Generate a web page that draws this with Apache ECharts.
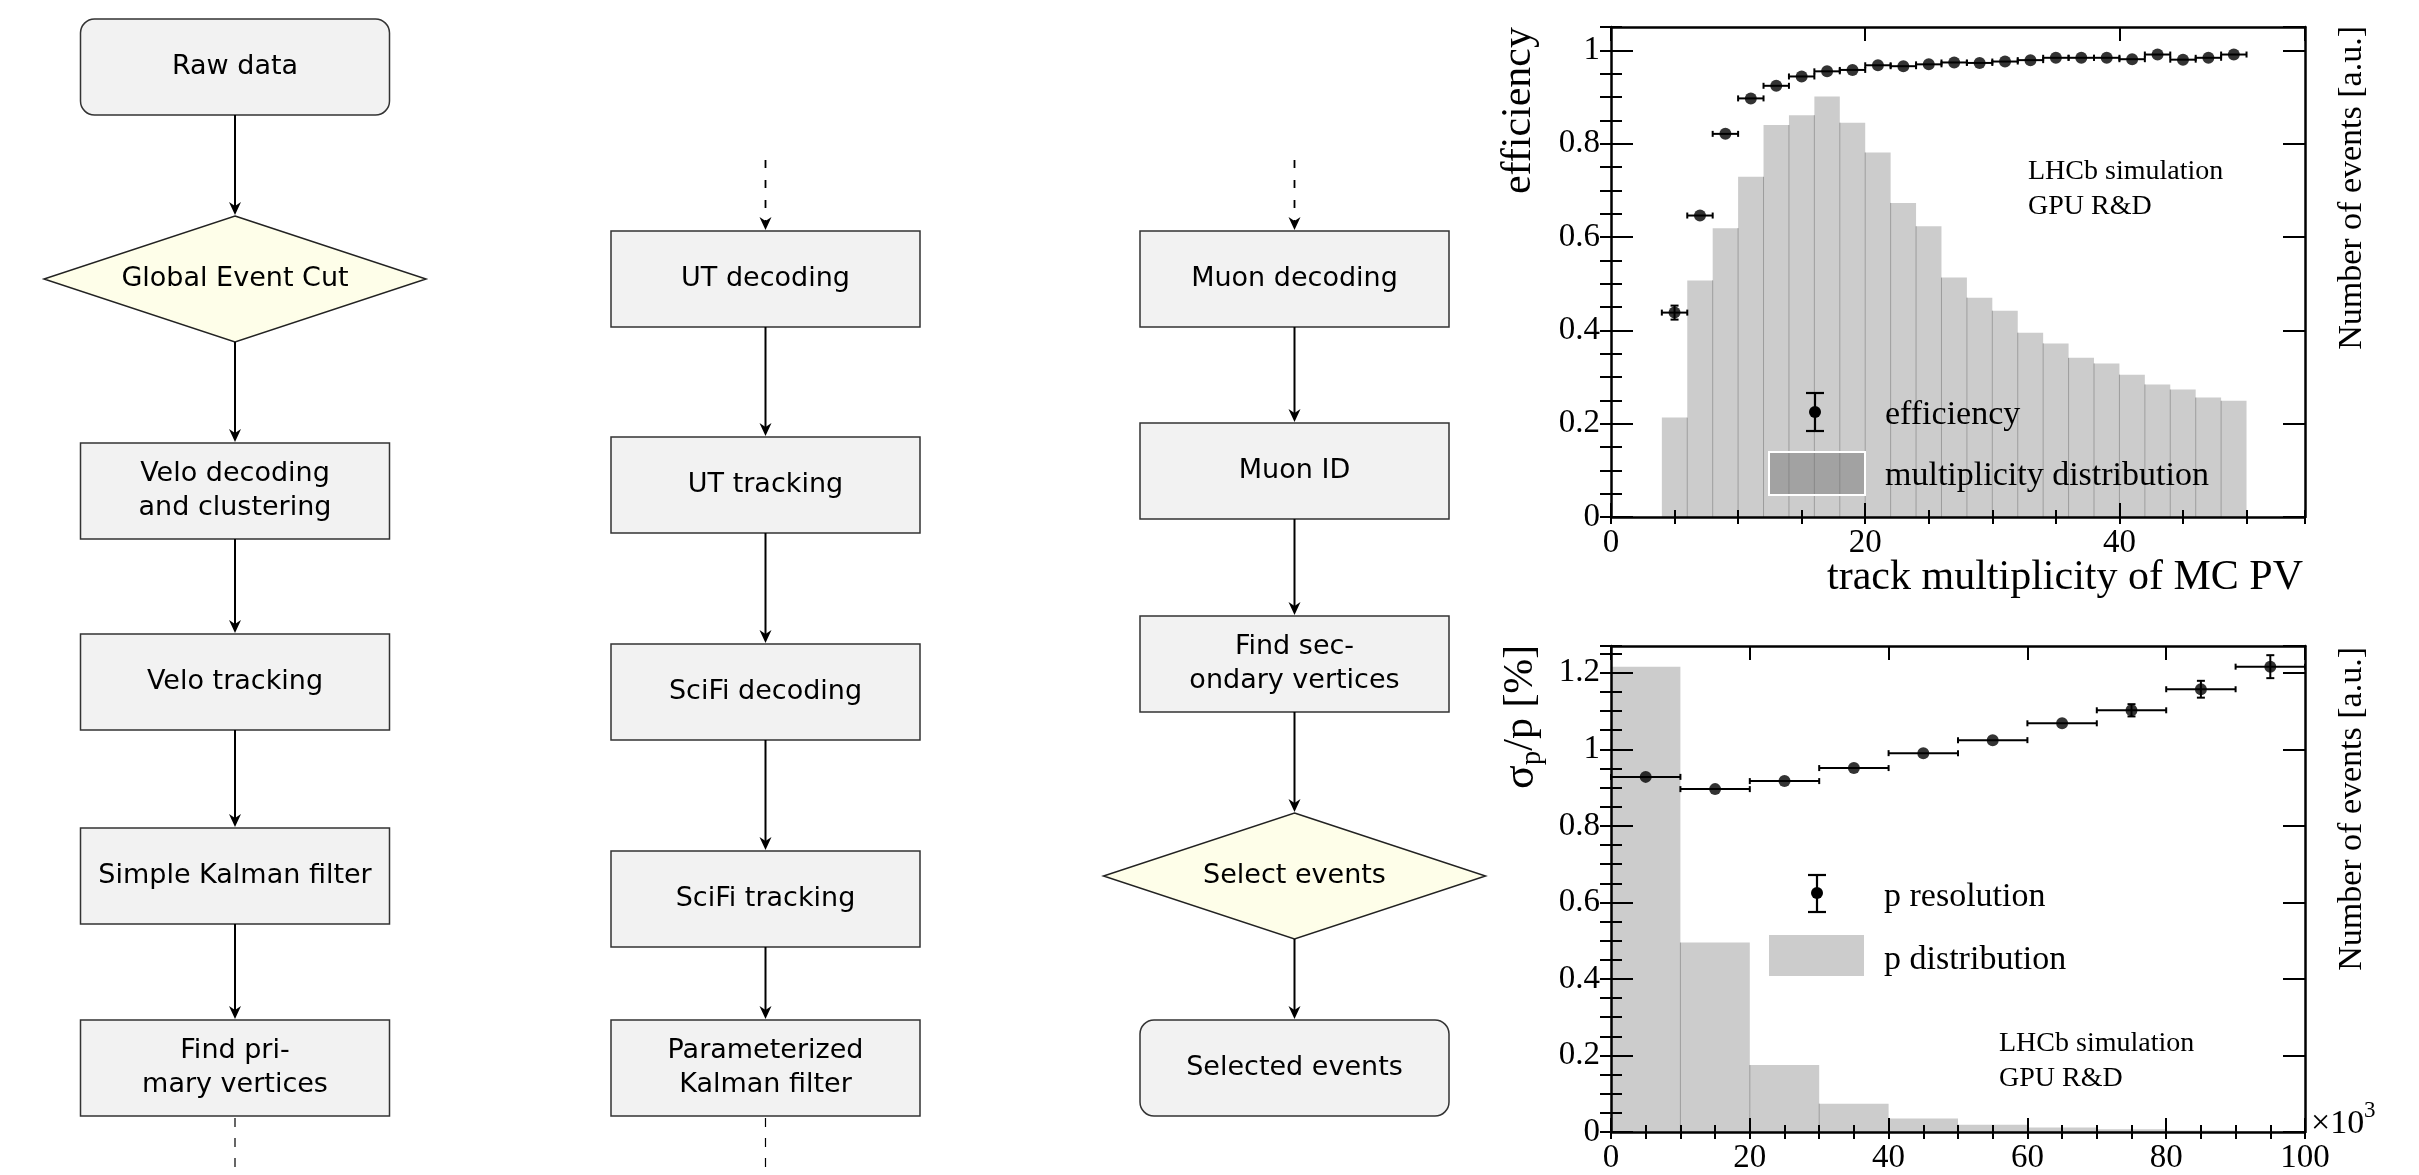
<!DOCTYPE html>
<html><head><meta charset="utf-8">
<script src="https://cdn.jsdelivr.net/npm/echarts@6/dist/echarts.min.js"></script>
<style>html,body{margin:0;padding:0;background:#fff}#c{width:2419px;height:1175px}</style>
</head><body><div id="c"></div>
<script>
// ===== DATA: efficiency vs track multiplicity (top plot) =====
const multEdges  = [4,6,8,10,12,14,16,18,20,22,24,26,28,30,32,34,36,38,40,42,44,46,48,50];
const multCounts = [0.213,0.507,0.619,0.729,0.840,0.861,0.901,0.845,0.781,0.673,0.623,0.513,0.470,0.442,0.395,0.372,0.341,0.329,0.305,0.284,0.273,0.256,0.249];
const effX    = [5,7,9,11,13,15,17,19,21,23,25,27,29,31,33,35,37,39,41,43,45,47,49];
const effY    = [0.438,0.646,0.821,0.897,0.924,0.944,0.955,0.958,0.968,0.966,0.970,0.974,0.973,0.976,0.979,0.984,0.984,0.984,0.981,0.991,0.980,0.984,0.991];
const effXErr = [1,1,1,1,1,1,1,1,1,1,1,1,1,1,1,1,1,1,1,1,1,1,1];
const effYErr = [0.015,0.008,0.006,0.005,0.004,0.004,0.004,0.004,0.004,0.004,0.004,0.004,0.004,0.004,0.004,0.004,0.004,0.004,0.004,0.004,0.004,0.004,0.004];
const effXTicks = [0,20,40];
const effYTicks = ['0','0.2','0.4','0.6','0.8','1'];

// ===== DATA: momentum resolution (bottom plot) =====
const pEdges  = [0,10,20,30,40,50,60,70,80,90,100];
const pCounts = [1.216,0.495,0.175,0.074,0.035,0.019,0.012,0.007,0.004,0.002];
const resX    = [5,15,25,35,45,55,65,75,85,95];
const resY    = [0.928,0.896,0.917,0.951,0.990,1.024,1.068,1.102,1.157,1.216];
const resXErr = [5,5,5,5,5,5,5,5,5,5];
const resYErr = [0.005,0.005,0.005,0.006,0.007,0.008,0.011,0.016,0.022,0.030];
const resXTicks = [0,20,40,60,80,100];
const resYTicks = ['0','0.2','0.4','0.6','0.8','1','1.2'];

// ===== FLOWCHART TEXT =====
const flowCol1 = ['Raw data','Global Event Cut','Velo decoding\nand clustering','Velo tracking','Simple Kalman filter','Find pri-\nmary vertices'];
const flowCol2 = ['UT decoding','UT tracking','SciFi decoding','SciFi tracking','Parameterized\nKalman filter'];
const flowCol3 = ['Muon decoding','Muon ID','Find sec-\nondary vertices','Select events','Selected events'];

// ===== FLOWCHART LAYOUT (pixels) =====
const flowLayout = [
  {labels:flowCol1, cx:235, shapes:['round','diamond','rect','rect','rect','rect'],
   tops:[19,216,443,634,828,1020], bottoms:[115,342,539,730,924,1116], dashIn:false, dashOut:true},
  {labels:flowCol2, cx:765.5, shapes:['rect','rect','rect','rect','rect'],
   tops:[231,437,644,851,1020], bottoms:[327,533,740,947,1116], dashIn:true, dashOut:true},
  {labels:flowCol3, cx:1294.5, shapes:['rect','rect','rect','diamond','round'],
   tops:[231,423,616,813,1020], bottoms:[327,519,712,939,1116], dashIn:true, dashOut:false}
];

const SERIF = 'Liberation Serif';
const SANS = 'DejaVu Sans';
const _ctx = document.createElement('canvas').getContext('2d');
function tw(t, size, fam){ _ctx.font = size+'px "'+fam+'"'; return _ctx.measureText(t).width; }

function txt(text, x, y, size, fam, align, valign, extra){
  const st = {text:text, fontSize:size, fontFamily:fam, fill:'#000',
    align:align, verticalAlign:valign, textAlign:align, textVerticalAlign:valign};
  if (extra && extra.lineHeight) st.lineHeight = extra.lineHeight;
  const el = {type:'text', x:x, y:y, z:20, style:st};
  if (extra && extra.rotation) el.rotation = extra.rotation;
  return el;
}

// ===== flowchart graphics =====
const G = [];
function arrowLine(x, y1, y2, dashed){
  G.push({type:'line', z:5, shape:{x1:x, y1:y1, x2:x, y2:y2-6},
    style:{stroke:'#000', lineWidth: dashed?1.8:2, lineDash: dashed?[8,12]:null}});
  G.push({type:'polygon', z:6, shape:{points:[[x,y2],[x-6,y2-13],[x,y2-9],[x+6,y2-13]]}, style:{fill:'#000'}});
}
flowLayout.forEach(col => {
  const cx = col.cx, hw = 154.5, dw = 191;
  col.labels.forEach((lab, i) => {
    const t = col.tops[i], b = col.bottoms[i], sh = col.shapes[i];
    if (sh === 'diamond') {
      G.push({type:'polygon', z:4, shape:{points:[[cx,t],[cx+dw,(t+b)/2],[cx,b],[cx-dw,(t+b)/2]]},
        style:{fill:'#fefee9', stroke:'#222', lineWidth:1.5}});
    } else {
      G.push({type:'rect', z:4, shape:{x:cx-hw, y:t, width:2*hw, height:b-t, r: sh==='round'?14:0},
        style:{fill:'#f2f2f2', stroke:'#333', lineWidth:1.5}});
    }
    G.push(txt(lab, cx, (t+b)/2, 27, SANS, 'center', 'middle', {lineHeight:34}));
    if (i > 0) arrowLine(cx, col.bottoms[i-1], t - 1, false);
  });
  if (col.dashIn) arrowLine(cx, 160, col.tops[0] - 1, true);
  if (col.dashOut) {
    const yb = col.bottoms[col.bottoms.length-1];
    G.push({type:'line', z:5, shape:{x1:cx, y1:yb+2, x2:cx, y2:1170},
      style:{stroke:'#000', lineWidth:1.2, lineDash:[9,11]}});
  }
});

// ===== plot annotations =====
// top plot
G.push(txt('efficiency', 1519, 27, 42, SERIF, 'right', 'middle', {rotation:Math.PI/2}));
G.push(txt('Number of events [a.u.]', 2352, 26, 34, SERIF, 'right', 'middle', {rotation:Math.PI/2}));
G.push(txt('track multiplicity of MC PV', 2303, 578, 42, SERIF, 'right', 'middle'));
G.push(txt('LHCb simulation', 2028, 172, 28, SERIF, 'left', 'middle'));
G.push(txt('GPU R&D', 2028, 207, 28, SERIF, 'left', 'middle'));
G.push(txt('efficiency', 1885, 415, 34, SERIF, 'left', 'middle'));
G.push(txt('multiplicity distribution', 1885, 476, 34, SERIF, 'left', 'middle'));
G.push({type:'rect', z:8, shape:{x:1769, y:452, width:96, height:43}, style:{fill:'rgba(110,110,110,0.45)', stroke:'#fff', lineWidth:2}});
function legendErr(x, y1, y2, yc){
  G.push({type:'line', z:9, shape:{x1:x,y1:y1,x2:x,y2:y2}, style:{stroke:'#000', lineWidth:2.2}});
  G.push({type:'line', z:9, shape:{x1:x-9,y1:y1,x2:x+9,y2:y1}, style:{stroke:'#000', lineWidth:2.2}});
  G.push({type:'line', z:9, shape:{x1:x-9,y1:y2,x2:x+9,y2:y2}, style:{stroke:'#000', lineWidth:2.2}});
  G.push({type:'circle', z:9, shape:{cx:x, cy:yc, r:6}, style:{fill:'#000'}});
}
legendErr(1815, 393, 431, 412);
// bottom plot
G.push(txt('Number of events [a.u.]', 2352, 647, 34, SERIF, 'right', 'middle', {rotation:Math.PI/2}));
(function(){
  const f1 = 44, f2 = 29;
  const w1 = tw('σ', f1, SERIF), w2 = tw('p', f2, SERIF);
  G.push({type:'group', x:1521, y:789, rotation:Math.PI/2, z:20, children:[
    {type:'text', x:0, y:0, style:{text:'σ', fontSize:f1, fontFamily:SERIF, fill:'#000', align:'left', verticalAlign:'middle', textAlign:'left', textVerticalAlign:'middle'}},
    {type:'text', x:w1, y:11, style:{text:'p', fontSize:f2, fontFamily:SERIF, fill:'#000', align:'left', verticalAlign:'middle', textAlign:'left', textVerticalAlign:'middle'}},
    {type:'text', x:w1+w2, y:0, style:{text:'/p [%]', fontSize:42, fontFamily:SERIF, fill:'#000', align:'left', verticalAlign:'middle', textAlign:'left', textVerticalAlign:'middle'}}
  ]});
})();
G.push(txt('p resolution', 1884, 897, 34, SERIF, 'left', 'middle'));
G.push(txt('p distribution', 1884, 960, 34, SERIF, 'left', 'middle'));
G.push({type:'rect', z:8, shape:{x:1769, y:935, width:95, height:41}, style:{fill:'#cccccc'}});
legendErr(1817, 875, 912, 893);
G.push(txt('LHCb simulation', 1999, 1044, 28, SERIF, 'left', 'middle'));
G.push(txt('GPU R&D', 1999, 1079, 28, SERIF, 'left', 'middle'));
G.push(txt('×10', 2311, 1124, 34, SERIF, 'left', 'middle'));
G.push(txt('3', 2364, 1111, 23, SERIF, 'left', 'middle'));

// ===== axes =====
function xAxes(grid, min, max, major, minor, fmtList){
  const base = {type:'value', gridIndex:grid, min:min, max:max, z:10, splitLine:{show:false}};
  return [
    Object.assign({}, base, {position:'bottom', interval:major,
      axisLine:{show:true, onZero:false, lineStyle:{color:'#000', width:2.5}},
      axisTick:{show:true, inside:true, length:14, lineStyle:{color:'#000', width:2}},
      axisLabel:{show:true, showMaxLabel: max === fmtList[fmtList.length-1], color:'#000', fontFamily:SERIF, fontSize:33, margin:10,
        formatter: v => (fmtList.indexOf(Math.round(v)) >= 0 && Math.abs(v-Math.round(v))<1e-6) ? String(Math.round(v)) : ''}}),
    Object.assign({}, base, {position:'bottom', interval:minor, axisLine:{show:false},
      axisTick:{show:true, inside:true, length:7, lineStyle:{color:'#000', width:2}}, axisLabel:{show:false}}),
    Object.assign({}, base, {position:'top', interval:major,
      axisLine:{show:true, onZero:false, lineStyle:{color:'#000', width:2.5}},
      axisTick:{show:true, inside:true, length:14, lineStyle:{color:'#000', width:2}}, axisLabel:{show:false}}),
    Object.assign({}, base, {position:'top', interval:minor, axisLine:{show:false},
      axisTick:{show:true, inside:true, length:7, lineStyle:{color:'#000', width:2}}, axisLabel:{show:false}})
  ];
}
function yAxes(grid, min, max, major, minor, labels){
  const base = {type:'value', gridIndex:grid, min:min, max:max, z:10, splitLine:{show:false}};
  return [
    Object.assign({}, base, {position:'left', interval:major,
      axisLine:{show:true, onZero:false, lineStyle:{color:'#000', width:2.5}},
      axisTick:{show:true, inside:true, length:22, lineStyle:{color:'#000', width:2}},
      axisLabel:{show:true, showMaxLabel:false, color:'#000', fontFamily:SERIF, fontSize:33, margin:11,
        formatter: v => { const k = Math.round(v/major); return (Math.abs(v-k*major)<1e-6 && labels[k]!==undefined) ? labels[k] : ''; }}}),
    Object.assign({}, base, {position:'left', interval:minor, axisLine:{show:false},
      axisTick:{show:true, inside:true, length:11, lineStyle:{color:'#000', width:2}}, axisLabel:{show:false}}),
    Object.assign({}, base, {position:'right', interval:major,
      axisLine:{show:true, onZero:false, lineStyle:{color:'#000', width:2.5}},
      axisTick:{show:true, inside:true, length:22, lineStyle:{color:'#000', width:2}}, axisLabel:{show:false}}),
    Object.assign({}, base, {position:'right', interval:minor, axisLine:{show:false},
      axisTick:{show:true, inside:true, length:11, lineStyle:{color:'#000', width:2}}, axisLabel:{show:false}})
  ];
}

// ===== series builders =====
function histSeries(xi, yi, edges, counts){
  const data = counts.map((c, i) => [edges[i], edges[i+1], c, i > 0 ? Math.min(c, counts[i-1]) : 0]);
  return {type:'custom', xAxisIndex:xi, yAxisIndex:yi, z:1, silent:true, clip:true,
    encode:{x:[0,1], y:2},
    renderItem: function(params, api){
      const lo = api.value(0), hi = api.value(1), h = api.value(2), sep = api.value(3);
      const p0 = api.coord([lo, 0]), p1 = api.coord([hi, h]);
      const ch = [{type:'rect', shape:{x:p0[0], y:p1[1], width:p1[0]-p0[0], height:p0[1]-p1[1]}, style:{fill:'#cccccc'}}];
      if (sep > 0) {
        const s = api.coord([lo, sep]);
        ch.push({type:'line', shape:{x1:p0[0], y1:p0[1], x2:p0[0], y2:s[1]}, style:{stroke:'#9c9c9c', lineWidth:1}});
      }
      return {type:'group', children:ch};
    },
    data:data};
}
function errSeries(xi, yi, xs, ys, xe, ye){
  const data = xs.map((x, i) => [x, ys[i], xe[i], ye[i]]);
  return {type:'custom', xAxisIndex:xi, yAxisIndex:yi, z:3, silent:true, clip:false,
    encode:{x:0, y:1},
    renderItem: function(params, api){
      const x = api.value(0), y = api.value(1), ex = api.value(2), ey = api.value(3);
      const l = api.coord([x-ex, y]), r = api.coord([x+ex, y]);
      const t = api.coord([x, y+ey]), b = api.coord([x, y-ey]);
      const st = {stroke:'#000', lineWidth:2};
      const ch = [
        {type:'line', shape:{x1:l[0], y1:l[1], x2:r[0], y2:r[1]}, style:st},
        {type:'line', shape:{x1:l[0], y1:l[1]-3, x2:l[0], y2:l[1]+3}, style:st},
        {type:'line', shape:{x1:r[0], y1:r[1]-3, x2:r[0], y2:r[1]+3}, style:st}
      ];
      if (b[1] - t[1] > 10) {
        ch.push({type:'line', shape:{x1:t[0], y1:t[1], x2:b[0], y2:b[1]}, style:st});
        ch.push({type:'line', shape:{x1:t[0]-4, y1:t[1], x2:t[0]+4, y2:t[1]}, style:st});
        ch.push({type:'line', shape:{x1:b[0]-4, y1:b[1], x2:b[0]+4, y2:b[1]}, style:st});
      }
      return {type:'group', children:ch};
    },
    data:data};
}
function pointSeries(xi, yi, xs, ys){
  return {type:'scatter', xAxisIndex:xi, yAxisIndex:yi, z:4, silent:true, symbol:'circle', symbolSize:12,
    itemStyle:{color:'#000'}, data: xs.map((x, i) => [x, ys[i]])};
}

const option = {
  animation:false,
  backgroundColor:'#ffffff',
  grid:[
    {left:1611, top:27, width:694, height:490},
    {left:1611, top:646, width:694, height:489.5}
  ],
  xAxis: xAxes(0, 0, 54.6, 20, 5, effXTicks).concat(xAxes(1, 0, 100, 20, 5, resXTicks)),
  yAxis: yAxes(0, 0, 1.05, 0.2, 0.05, effYTicks).concat(yAxes(1, 0, 1.27, 0.2, 0.05, resYTicks)),
  series:[
    histSeries(0, 0, multEdges, multCounts),
    errSeries(0, 0, effX, effY, effXErr, effYErr),
    pointSeries(0, 0, effX, effY),
    histSeries(4, 4, pEdges, pCounts),
    errSeries(4, 4, resX, resY, resXErr, resYErr),
    pointSeries(4, 4, resX, resY)
  ],
  graphic:{elements:G}
};
const chart = echarts.init(document.getElementById('c'), null, {renderer:'canvas'});
chart.setOption(option);
</script>
</body></html>
